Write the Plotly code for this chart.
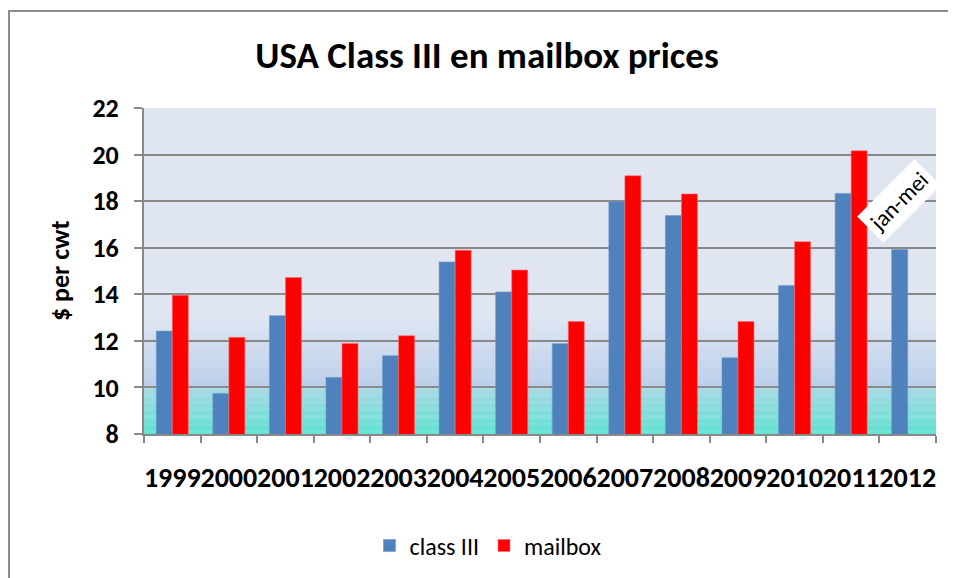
import plotly.graph_objects as go

years = ["1999", "2000", "2001", "2002", "2003", "2004", "2005",
         "2006", "2007", "2008", "2009", "2010", "2011", "2012"]
class_iii = [12.42, 9.74, 13.08, 10.43, 11.36, 15.39, 14.10,
             11.88, 17.98, 17.38, 11.27, 14.38, 18.33, 15.92]
mailbox = [13.96, 12.15, 14.72, 11.89, 12.22, 15.89, 15.04,
           12.83, 19.09, 18.31, 12.83, 16.26, 20.16, None]

TITLE = "USA Class III en mailbox prices"
Y_TITLE = "$ per cwt"
NOTE = "jan-mei"

FONT = "Carlito, Lato, 'Open Sans', sans-serif"
BLUE = "#4F81BD"
RED = "#FF0000"
GRID = "#898989"

# page body has an 8px margin; figure coordinates are page coordinates minus 8
OFF = 8
W, H = 956, 578
L = 144 - OFF
T = 108 - OFF
R = W - (936 - OFF)
B = H - (434 - OFF)
PW = W - L - R
PH = H - T - B


def px_x(px):  # page pixel x -> paper x
    return (px - OFF - L) / PW


def px_y(py):  # page pixel y -> paper y
    return (H - B - (py - OFF)) / PH


def hex2rgb(h):
    h = h.lstrip("#")
    return tuple(int(h[i:i + 2], 16) for i in (0, 2, 4))


def lerp(c0, c1, t):
    a, b = hex2rgb(c0), hex2rgb(c1)
    return "rgb(%d,%d,%d)" % tuple(round(a[i] + (b[i] - a[i]) * t) for i in range(3))


# background gradient pieces: (y0, y1, colour at y0, colour at y1)
bg_pieces = [
    (8.0, 10.0, "#5EE3D2", "#A8D8E4"),
    (10.0, 13.0, "#BACEEA", "#DFE6F2"),
]
shapes = []
for y0, y1, c0, c1 in bg_pieces:
    n = 40
    for i in range(n):
        a = y0 + (y1 - y0) * i / n
        b = y0 + (y1 - y0) * (i + 1) / n
        shapes.append(dict(type="rect", xref="paper", yref="y", x0=0, x1=1,
                           y0=a, y1=b + 0.01, fillcolor=lerp(c0, c1, (i + 0.5) / n),
                           line_width=0, layer="below"))

# outer chart border
shapes.append(dict(type="rect", xref="paper", yref="paper",
                   x0=px_x(9), x1=px_x(W + 40),
                   y0=px_y(H + 40), y1=px_y(11),
                   line=dict(color="#8C8C8C", width=2), fillcolor="rgba(0,0,0,0)",
                   layer="above"))

fig = go.Figure()
fig.add_trace(go.Bar(x=years, y=class_iii, name="class III", marker_color=BLUE,
                     marker_line=dict(color="#6F97C8", width=0.6)))
fig.add_trace(go.Bar(x=years, y=mailbox, name="mailbox", marker_color=RED,
                     marker_line=dict(color="#FF7070", width=0.6)))

fig.update_layout(
    width=W, height=H,
    margin=dict(l=L, r=R, t=T, b=B),
    paper_bgcolor="white",
    plot_bgcolor="#DFE6F2",
    barmode="group", bargap=0.434, bargroupgap=0,
    font=dict(family=FONT, color="black"),
    title=dict(text="<b>" + TITLE + "</b>", x=(487 - OFF) / W, xanchor="center",
               y=1 - (55 - OFF) / H, yanchor="middle", yref="container",
               font=dict(size=37, family=FONT, color="black")),
    showlegend=True,
    legend=dict(orientation="h", x=px_x(488), xanchor="center",
                y=px_y(546), yanchor="middle",
                font=dict(size=24, family=FONT), bgcolor="rgba(0,0,0,0)",
                itemwidth=30),
    shapes=shapes,
    annotations=[
        dict(text="<b>" + Y_TITLE + "</b>", textangle=-90, xref="paper", yref="paper",
             x=px_x(60), y=0.5, showarrow=False, xanchor="center", yanchor="middle",
             font=dict(size=26, family=FONT)),
        dict(text=NOTE, textangle=-45, xref="paper", yref="y", x=px_x(899), y=18.0,
             xanchor="center", yanchor="middle",
             showarrow=False, bgcolor="white", borderpad=4,
             font=dict(size=23, family=FONT)),
    ],
)

fig.update_xaxes(
    type="category", showgrid=False, showline=True, linecolor=GRID, linewidth=2,
    ticks="outside", tickson="boundaries", ticklen=7, tickwidth=2, tickcolor=GRID,
    tickangle=0, tickfont=dict(size=28, family=FONT), ticklabelstandoff=17,
    tickprefix="<b>", ticksuffix="</b>",
)
fig.update_yaxes(
    range=[8, 22], dtick=2, showgrid=True, gridcolor=GRID, gridwidth=2,
    showline=True, linecolor=GRID, linewidth=2, zeroline=False,
    ticks="outside", ticklen=8, tickwidth=2, tickcolor=GRID,
    tickfont=dict(size=26, family=FONT), ticklabelstandoff=10,
    tickprefix="<b>", ticksuffix="</b>",
)

fig.write_html("out.html")
